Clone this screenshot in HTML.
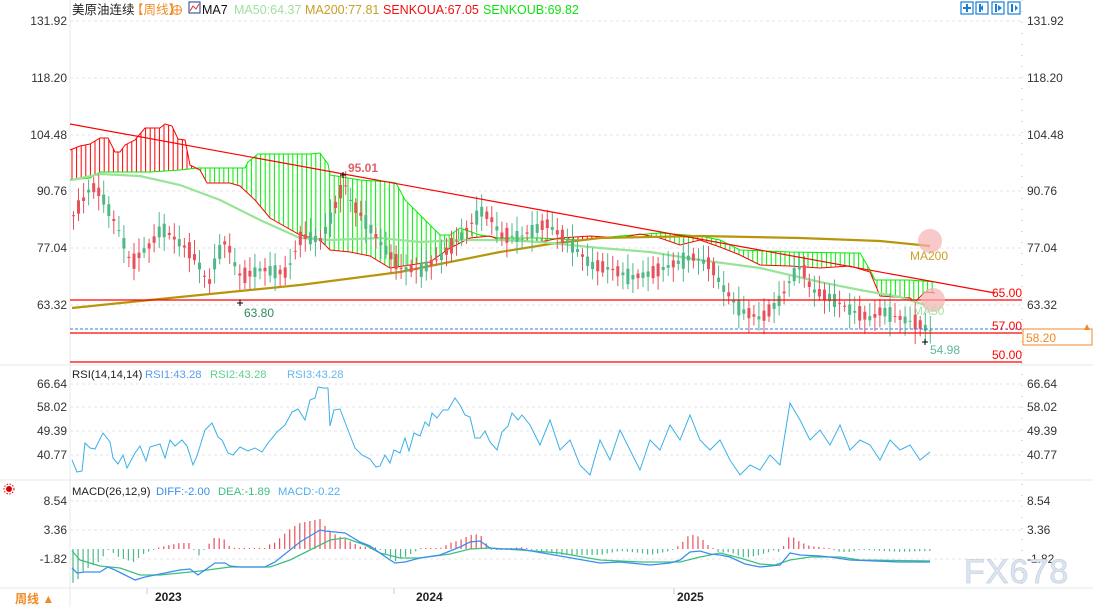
<!DOCTYPE html>
<html><head><meta charset="utf-8"><style>
body{margin:0;background:#fff;width:1093px;height:607px;overflow:hidden;font-family:"Liberation Sans","Noto Sans CJK SC",sans-serif}
svg{display:block}
</style></head><body>
<svg id="s" width="1093" height="607" xmlns="http://www.w3.org/2000/svg" font-family="Liberation Sans, Noto Sans CJK SC, sans-serif">
<rect width="1093" height="607" fill="#fff"/>
<g id="grid" stroke="#e4e4e4" stroke-dasharray="3,3">
<line x1="70" y1="21" x2="1022" y2="21"/><line x1="70" y1="78" x2="1022" y2="78"/><line x1="70" y1="135" x2="1022" y2="135"/><line x1="70" y1="191" x2="1022" y2="191"/><line x1="70" y1="248" x2="1022" y2="248"/><line x1="70" y1="305" x2="1022" y2="305"/>
<line x1="70" y1="384" x2="1022" y2="384"/><line x1="70" y1="407" x2="1022" y2="407"/><line x1="70" y1="431" x2="1022" y2="431"/><line x1="70" y1="455" x2="1022" y2="455"/>
<line x1="70" y1="501" x2="1022" y2="501"/><line x1="70" y1="530" x2="1022" y2="530"/><line x1="70" y1="559" x2="1022" y2="559"/>
</g>
<g stroke="#e6e9ee"><line x1="0" y1="365" x2="1093" y2="365"/><line x1="0" y1="480" x2="1093" y2="480"/><line x1="0" y1="588" x2="1093" y2="588"/><line x1="70" y1="0" x2="70" y2="607"/></g>
<line x1="1022" y1="0" x2="1022" y2="588" stroke="#bbb" stroke-dasharray="1,10"/>
<g font-size="12" fill="#333" text-anchor="end">
<text x="67" y="25">131.92</text><text x="67" y="82">118.20</text><text x="67" y="139">104.48</text><text x="67" y="195">90.76</text><text x="67" y="252">77.04</text><text x="67" y="309">63.32</text>
<text x="67" y="388">66.64</text><text x="67" y="411">58.02</text><text x="67" y="435">49.39</text><text x="67" y="459">40.77</text>
<text x="67" y="505">8.54</text><text x="67" y="534">3.36</text><text x="67" y="563">-1.82</text>
</g>
<g font-size="12" fill="#333">
<text x="1027" y="25">131.92</text><text x="1027" y="82">118.20</text><text x="1027" y="139">104.48</text><text x="1027" y="195">90.76</text><text x="1027" y="252">77.04</text><text x="1027" y="309">63.32</text>
<text x="1027" y="388">66.64</text><text x="1027" y="411">58.02</text><text x="1027" y="435">49.39</text><text x="1027" y="459">40.77</text>
<text x="1027" y="505">8.54</text><text x="1027" y="534">3.36</text><text x="1027" y="563">-1.82</text>
</g>
<g id="dyn"></g>
<g stroke="#f00" stroke-width="1.2"><line x1="70" y1="300" x2="1022" y2="300"/><line x1="70" y1="333" x2="1022" y2="333"/><line x1="70" y1="362" x2="1022" y2="362"/></g>
<line x1="70" y1="329" x2="1022" y2="329" stroke="#3a7bd5" stroke-dasharray="3,2"/>
<line x1="70" y1="124" x2="995" y2="293" stroke="#f00" stroke-width="1.2"/>
<g font-size="12" fill="#f00"><text x="992" y="297">65.00</text><text x="992" y="330">57.00</text><text x="992" y="359">50.00</text></g>
<rect x="1023" y="329" width="69" height="16" fill="#fff" stroke="#f08a24"/>
<text x="1026" y="342" font-size="12" fill="#f08a24">58.20</text>
<text x="1082" y="330" font-size="10" fill="#f08a24">▲</text>
<circle cx="930" cy="241" r="12" fill="#f7b0b0" opacity="0.7"/><circle cx="933" cy="300" r="12" fill="#f7b0b0" opacity="0.7"/>
<text x="910" y="260" font-size="12" fill="#c8a028">MA200</text>
<text x="913" y="315" font-size="12" fill="#a8e0a8">MA50</text>
<text x="348" y="172" font-size="12" font-weight="bold" fill="#e06068">95.01</text>
<text x="244" y="317" font-size="12" fill="#2e8b57">63.80</text>
<text x="930" y="354" font-size="12" fill="#5cb8a0">54.98</text>
<g stroke="#000" stroke-width="1"><line x1="340" y1="175" x2="346" y2="175"/><line x1="343" y1="172" x2="343" y2="178"/><line x1="237" y1="303" x2="243" y2="303"/><line x1="240" y1="300" x2="240" y2="306"/><line x1="922" y1="342" x2="928" y2="342"/><line x1="925" y1="339" x2="925" y2="345"/></g>
<g font-size="12.5">
<text x="72" y="14" fill="#222">美原油连续</text><text x="131" y="14" fill="#f08a24">【周线】</text>
<circle cx="177" cy="10" r="4.5" fill="none" stroke="#f08a24"/><line x1="172" y1="10" x2="182" y2="10" stroke="#f08a24"/><line x1="177" y1="5" x2="177" y2="15" stroke="#f08a24"/>
<rect x="189" y="2" width="11" height="11" fill="#fff" stroke="#1a3e8c"/><polyline points="190,11 193,6 196,9 199,4" fill="none" stroke="#d33"/>
<text x="202" y="14" fill="#111">MA7</text>
<text x="234" y="14" fill="#a0e0a0">MA50:64.37</text>
<text x="305" y="14" fill="#c8a028">MA200:77.81</text>
<text x="383" y="14" fill="#f01010">SENKOUA:67.05</text>
<text x="483" y="14" fill="#10e010">SENKOUB:69.82</text>
</g>
<g font-size="11.3">
<text x="72" y="378" fill="#222">RSI(14,14,14)</text><text x="145" y="378" fill="#5b9cf0">RSI1:43.28</text><text x="210" y="378" fill="#60d090">RSI2:43.28</text><text x="287" y="378" fill="#60b8f0">RSI3:43.28</text>
<text x="72" y="495" fill="#222">MACD(26,12,9)</text><text x="156" y="495" fill="#3a8ef0">DIFF:-2.00</text><text x="218" y="495" fill="#3cc080">DEA:-1.89</text><text x="278" y="495" fill="#50b0f0">MACD:-0.22</text>
</g>
<g fill="none" stroke="#1a7fd0" stroke-width="1.2"><rect x="961" y="2" width="12" height="12"/><rect x="976" y="2" width="12" height="12"/><rect x="992" y="2" width="12" height="12"/><rect x="1008" y="2" width="12" height="12"/></g>
<g fill="#1a7fd0"><rect x="966" y="4" width="2" height="8"/><rect x="963" y="7" width="8" height="2"/><rect x="979" y="4" width="2" height="8"/><rect x="995" y="4" width="2" height="8"/><rect x="1011" y="4" width="2" height="8"/><polygon points="983,5 983,11 980,8"/><polygon points="998,5 998,11 1002,8"/><polygon points="1015,5 1015,11 1018,8"/></g>
<circle cx="9" cy="489" r="3" fill="#d00"/><circle cx="9" cy="489" r="5" fill="none" stroke="#d00" stroke-dasharray="1.5,1.5"/>
<g font-size="12" font-weight="bold" fill="#222"><text x="155" y="601">2023</text><text x="416" y="601">2024</text><text x="677" y="601">2025</text></g>
<g stroke="#ccc"><line x1="147" y1="588" x2="147" y2="594"/><line x1="394" y1="588" x2="394" y2="594"/><line x1="674" y1="588" x2="674" y2="594"/></g>
<text x="15" y="603" font-size="12" font-weight="bold" fill="#f08a24">周线 ▲</text>
<text x="964" y="583" font-size="34" fill="#dde6f0" stroke="#c5d2e2" stroke-width="0.8" letter-spacing="1">FX678</text>
</svg>
<script>
var g=document.getElementById("dyn"),h="";
function interp(p,x){if(x<=p[0][0])return p[0][1];for(var i=1;i<p.length;i++){if(x<=p[i][0]){var a=p[i-1],b=p[i];return a[1]+(b[1]-a[1])*(x-a[0])/(b[0]-a[0]);}}return p[p.length-1][1];}
function pl(p,c,w){return '<polyline fill="none" stroke="'+c+'" stroke-width="'+w+'" points="'+p.map(function(q){return q[0]+','+q[1]}).join(' ')+'"/>';}
function Y(v){return 305-(v-63.32)*4.14;}
var A=[[70,150],[80,146],[90,144],[100,138],[108,138],[115,152],[120,152],[125,145],[135,140],[145,128],[160,128],[165,124],[172,126],[178,139],[185,140],[190,165],[200,170],[207,183],[230,183],[240,186],[255,200],[270,218],[300,235],[320,240],[330,250],[350,252],[370,256],[390,268],[410,265],[430,262],[450,248],[470,238],[490,236],[500,240],[520,240],[540,242],[560,238],[590,236],[620,238],[640,234],[660,238],[680,245],[700,240],[720,247],[740,255],[760,265],[790,266],[820,268],[850,266],[870,272],[880,296],[910,298],[915,302],[925,292],[935,293]];
var B=[[70,180],[90,178],[100,172],[150,172],[180,170],[198,168],[245,168],[248,162],[258,154],[310,154],[320,153],[328,164],[330,175],[360,180],[390,182],[396,183],[405,200],[420,215],[440,235],[450,235],[460,228],[480,235],[500,238],[540,238],[580,240],[620,236],[660,233],[700,236],[720,240],[740,250],[790,252],[850,253],[860,253],[870,270],[875,280],[910,280],[935,282]];
for(var x=72;x<=935;x+=4.6){var a=interp(A,x),b=interp(B,x);h+='<line x1="'+x.toFixed(1)+'" y1="'+a.toFixed(1)+'" x2="'+x.toFixed(1)+'" y2="'+b.toFixed(1)+'" stroke="'+(a<b?'#f00':'#0e0')+'" stroke-width="1"/>';}
h+=pl(B,"#0e0",1)+pl(A,"#f00",1);
var M50=[[72,180],[100,174],[140,176],[180,185],[220,200],[260,220],[300,238],[330,240],[380,238],[420,242],[460,240],[500,240],[540,242],[600,248],[650,252],[700,260],[760,268],[820,282],[860,290],[900,297],[925,305]];
var M200=[[72,308],[150,300],[230,292],[300,285],[400,272],[450,262],[500,252],[550,244],[600,238],[700,236],[800,238],[880,241],[930,246]];
h+=pl(M200,"#b8960c",2.2)+pl(M50,"#98e498",2.2);
var P=[[72,85],[80,88],[90,92],[100,90],[110,85],[120,80],[130,73],[140,76],[150,78],[160,82],[170,80],[180,78],[190,76],[200,72],[207,68],[215,75],[225,79],[235,72],[240,70],[260,72],[285,71],[300,80],[320,79],[335,88],[343,93],[350,88],[360,85],[380,78],[400,72],[420,72],[440,75],[460,80],[480,86],[490,84],[500,80],[520,80],[545,83],[570,78],[590,73],[610,72],[630,70],[650,71],[670,73],[690,75],[710,73],[720,68],[740,62],[760,60],[780,65],[790,70],[800,73],[810,67],[830,65],[850,62],[870,60],[880,62],[900,60],[915,59],[930,57]];
var i=0;for(var x=72;x<=930;x+=5.04,i++){var m=interp(P,x),n=Math.sin(i*1.7)*1.8+Math.sin(i*0.61)*1.2;var o=m-n*0.6,c=m+n*0.7;var hi=Math.max(o,c)+1+Math.abs(Math.sin(i*2.3))*2.5,lo=Math.min(o,c)-1-Math.abs(Math.cos(i*1.9))*2.5;
var col=c>=o?'#e8505b':'#4fb888';var yt=Y(Math.max(o,c)),yb=Y(Math.min(o,c));if(yb-yt<1)yb=yt+1;
h+='<line x1="'+(x+1.5).toFixed(1)+'" y1="'+Y(hi).toFixed(1)+'" x2="'+(x+1.5).toFixed(1)+'" y2="'+Y(lo).toFixed(1)+'" stroke="'+col+'"/><rect x="'+x.toFixed(1)+'" y="'+yt.toFixed(1)+'" width="3" height="'+(yb-yt).toFixed(1)+'" fill="'+col+'"/>';}
var R=[[72,460],[77,472],[82,471],[85,443],[90,448],[95,449],[103,433],[110,442],[113,458],[118,464],[123,455],[127,468],[135,453],[140,446],[146,461],[150,447],[160,444],[165,458],[170,440],[175,446],[182,440],[187,446],[193,465],[197,456],[205,430],[212,423],[218,437],[222,440],[228,453],[233,455],[240,447],[248,451],[255,448],[262,452],[268,443],[277,432],[285,425],[292,412],[298,409],[305,420],[310,400],[315,398],[318,387],[323,388],[328,388],[330,426],[334,410],[340,409],[348,430],[355,448],[362,455],[370,459],[376,467],[380,466],[385,455],[390,463],[394,450],[400,453],[405,438],[409,451],[414,433],[420,436],[425,422],[429,426],[432,413],[437,418],[443,410],[448,410],[455,398],[460,405],[465,415],[470,417],[475,438],[480,438],[485,431],[490,442],[497,450],[502,432],[508,426],[512,413],[518,420],[522,415],[530,425],[540,445],[550,420],[560,450],[570,440],[580,465],[590,475],[600,440],[610,460],[620,430],[630,450],[640,470],[650,440],[660,450],[670,425],[680,440],[690,415],[700,440],[710,450],[720,440],[730,460],[740,475],[750,465],[760,470],[770,455],[780,465],[790,403],[800,420],[810,440],[820,430],[830,445],[840,425],[850,450],[860,440],[870,445],[880,460],[890,440],[900,450],[910,445],[920,460],[930,452]];
h+=pl(R,"#3ab0e8",1);
var D=[[72,568],[77,573],[85,572],[100,572],[108,567],[115,570],[125,575],[135,580],[145,577],[155,575],[165,573],[180,570],[190,569],[198,575],[205,570],[215,563],[225,563],[230,566],[240,567],[265,567],[275,562],[290,550],[300,542],[310,536],[320,530],[325,531],[345,533],[360,542],[370,546],[380,553],[390,560],[395,563],[405,562],[420,558],[440,555],[460,547],[470,542],[480,541],[490,548],[500,549],[520,549],[560,556],[600,563],[620,562],[650,565],[670,563],[680,560],[690,552],[700,551],[710,554],[720,555],[730,557],[745,564],[760,567],[780,565],[790,553],[800,555],[820,556],[830,557],[850,560],[900,562],[930,562]];
var E=[[72,551],[80,560],[100,566],[120,568],[140,575],[160,575],[180,573],[200,571],[230,567],[270,567],[290,560],[310,550],[330,540],[345,538],[365,545],[380,553],[400,558],[420,558],[450,554],[470,549],[490,548],[520,550],[560,553],[600,560],[640,562],[680,562],[700,557],[720,553],[740,558],[760,564],[775,565],[790,560],[810,557],[840,557],[860,560],[930,561]];
for(var x=73;x<=930;x+=5.04){var d=interp(D,x),e=interp(E,x),v=2*(e-d);var y2=549-v;if(Math.abs(v)<1)y2=549-(v<0?-1:1);h+='<line x1="'+x.toFixed(1)+'" y1="549" x2="'+x.toFixed(1)+'" y2="'+y2.toFixed(1)+'" stroke="'+(v>=0?'#e8505b':'#4fb888')+'" stroke-width="1.2"/>';}
h+=pl(E,"#3cc080",1.3)+pl(D,"#3a8ef0",1.3);
g.innerHTML=h;
</script>
</body></html>
